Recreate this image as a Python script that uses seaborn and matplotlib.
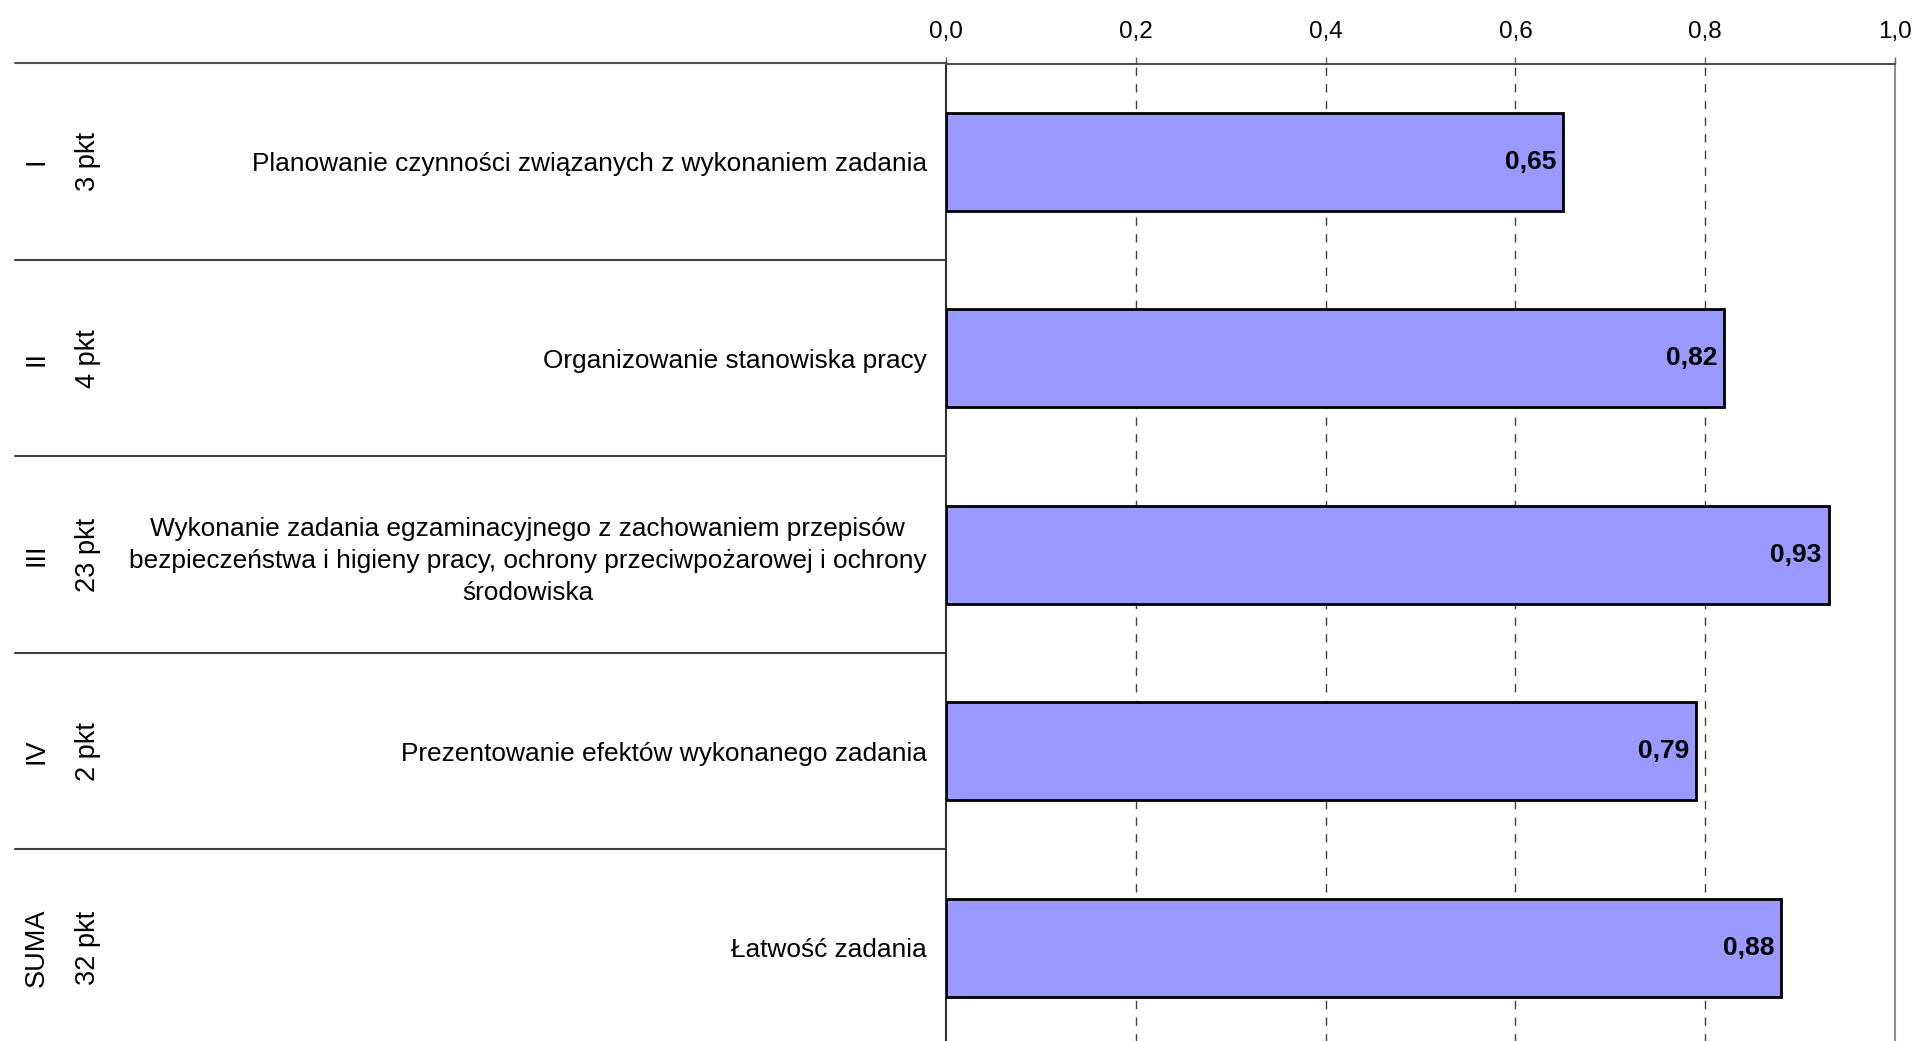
import numpy as np
import pandas as pd
import seaborn as sns
import matplotlib.pyplot as plt
from matplotlib.ticker import FuncFormatter

# === Data ===
roman = ["I", "II", "III", "IV", "SUMA"]
points = ["3 pkt", "4 pkt", "23 pkt", "2 pkt", "32 pkt"]
labels = [
    "Planowanie czynności związanych z wykonaniem zadania",
    "Organizowanie stanowiska pracy",
    "Wykonanie zadania egzaminacyjnego z zachowaniem przepisów\n"
    "bezpieczeństwa i higieny pracy, ochrony przeciwpożarowej i ochrony\n"
    "środowiska",
    "Prezentowanie efektów wykonanego zadania",
    "Łatwość zadania",
]
values = [0.65, 0.82, 0.93, 0.79, 0.88]
x_ticks = [0.0, 0.2, 0.4, 0.6, 0.8, 1.0]

df = pd.DataFrame({"label": labels, "value": values})

sns.set_theme(style="white")
plt.rcParams["font.family"] = ["Liberation Sans", "DejaVu Sans"]
plt.rcParams["text.color"] = "black"
plt.rcParams["xtick.color"] = "black"
plt.rcParams["ytick.color"] = "black"

W, H = 1915, 1041
fig = plt.figure(figsize=(W / 100, H / 100), dpi=100)

# axes placed in pixel terms
x0, x1 = 946, 1895
y_top, y_bot = 63.5, 1046
ax = fig.add_axes([x0 / W, 1 - y_bot / H, (x1 - x0) / W, (y_bot - y_top) / H])

sns.barplot(data=df, x="value", y="label", orient="h", color="#9999FF",
            saturation=1, edgecolor="black", linewidth=2, width=0.5, ax=ax,
            zorder=3)

ax.set_xlim(0, 1)
ax.set_ylim(4.5, -0.5)
ax.set_xlabel("")
ax.set_ylabel("")

# === x axis on top ===
ax.xaxis.tick_top()
ax.set_xticks(x_ticks)
ax.xaxis.set_major_formatter(FuncFormatter(lambda v, p: f"{v:.1f}".replace(".", ",")))
ax.tick_params(axis="x", labelsize=17.5, length=5, width=1, color="#606060",
               labelcolor="black", pad=10, direction="out")
for xv in x_ticks[1:-1]:
    ax.axvline(xv, color="#404040", lw=1, ls=(0, (6, 6)), zorder=1)

# === y labels ===
ax.set_yticks(range(len(labels)))
ax.set_yticklabels(labels, fontsize=18.9, ma="center", linespacing=1.4)
ax.tick_params(axis="y", length=0, pad=14, labelcolor="black")

ax.spines["bottom"].set_visible(False)
ax.spines["left"].set_color("#303030")
ax.spines["left"].set_linewidth(1.5)
ax.spines["top"].set_color("#505050")
ax.spines["top"].set_linewidth(1.5)
ax.spines["right"].set_color("#909090")
ax.spines["right"].set_linewidth(1.5)

# === row separators & left labels ===
tr = ax.get_yaxis_transform()
x_left = (14.7 - x0) / (x1 - x0)
ax.plot([x_left, 0], [-0.5, -0.5], transform=tr, color="#505050", lw=1.5, clip_on=False)
for i in range(len(labels) - 1):
    ax.plot([x_left, 0], [i + 0.5, i + 0.5], transform=tr, color="#404040",
            lw=1.5, clip_on=False)

x_rom = (36.6 - x0) / (x1 - x0)
x_pts = (88 - x0) / (x1 - x0)
for i, (r, p) in enumerate(zip(roman, points)):
    ax.text(x_rom, i, r, transform=tr, rotation=90, ha="center", va="center",
            fontsize=19.5, color="black", clip_on=False)
    ax.text(x_pts, i, p, transform=tr, rotation=90, ha="center", va="center",
            fontsize=19.5, color="black", clip_on=False)

# === value labels ===
for i, v in enumerate(values):
    ax.annotate(f"{v:.2f}".replace(".", ","), xy=(v, i), xytext=(-5, 0),
                textcoords="offset points", ha="right", va="center",
                fontsize=19, fontweight="bold", color="black", zorder=4)

fig.savefig("out.png", dpi=100)
